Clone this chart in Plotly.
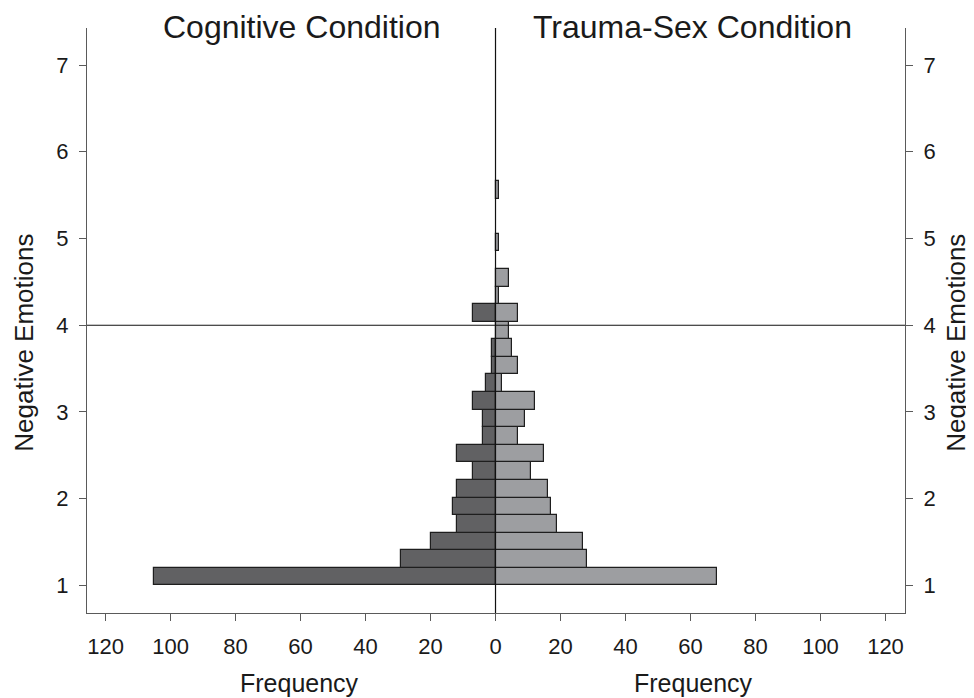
import plotly.graph_objects as go

# ---- data ----
bin_start = 1.0
bin_width = 0.2027
cognitive = [105, 29, 20, 12, 13, 12, 7, 12, 4, 4, 7, 3, 1, 1, 0, 7, 0, 0, 0, 0, 0, 0, 0]
trauma_sex = [68, 28, 27, 19, 17, 16, 11, 15, 7, 9, 12, 2, 7, 5, 4, 7, 1, 4, 0, 1, 0, 0, 1]
x_tick_vals = [-120, -100, -80, -60, -40, -20, 0, 20, 40, 60, 80, 100, 120]
x_tick_text = ["120", "100", "80", "60", "40", "20", "0", "20", "40", "60", "80", "100", "120"]
y_ticks = [1, 2, 3, 4, 5, 6, 7]
cutoff = 4

centers = [bin_start + bin_width * (i + 0.5) for i in range(len(cognitive))]

FONT = "Liberation Sans, Arial, sans-serif"
TXT = "#1a1a1a"
AX = "#5a5a5a"

def nonzero(vals, sign):
    xs, ys = [], []
    for v, c in zip(vals, centers):
        if v:
            xs.append(sign * v)
            ys.append(c)
    return xs, ys

cx, cy = nonzero(cognitive, -1)
tx, ty = nonzero(trauma_sex, 1)

fig = go.Figure()
fig.add_trace(go.Bar(x=cx, y=cy, orientation="h", width=bin_width, base=0,
                     marker=dict(color="#616163", line=dict(color="#1e1e1e", width=1.2)),
                     name="Cognitive Condition", showlegend=False, hoverinfo="skip"))
fig.add_trace(go.Bar(x=tx, y=ty, orientation="h", width=bin_width, base=0,
                     marker=dict(color="#9d9ea1", line=dict(color="#1e1e1e", width=1.2)),
                     name="Trauma-Sex Condition", showlegend=False, hoverinfo="skip"))
# invisible trace for right axis
fig.add_trace(go.Scatter(x=[0], y=[1], yaxis="y2", mode="markers",
                         marker=dict(opacity=0), showlegend=False, hoverinfo="skip"))

yr = [0.682, 7.427]
tick_common = dict(showgrid=False, zeroline=False, showline=True, linecolor=AX, linewidth=1.3,
                   ticks="outside", ticklen=7, tickcolor=AX, tickwidth=1.3,
                   ticklabelstandoff=6, tickfont=dict(size=22, color=TXT))
fig.update_layout(
    width=974, height=698,
    margin=dict(l=79, r=77, t=20, b=93),
    paper_bgcolor="white", plot_bgcolor="white",
    barmode="overlay", bargap=0,
    font=dict(family=FONT, color=TXT, size=22),
    xaxis=dict(range=[-125.7, 126.0], tickvals=x_tick_vals, ticktext=x_tick_text, **tick_common),
    yaxis=dict(range=yr, tickvals=y_ticks, **tick_common),
    yaxis2=dict(range=yr, tickvals=y_ticks, overlaying="y", side="right", anchor="x", **tick_common),
    shapes=[
        dict(type="line", xref="x", yref="paper", x0=0, x1=0, y0=0, y1=1,
             line=dict(color="#111111", width=1.2), layer="above"),
        dict(type="line", xref="paper", yref="y", x0=0, x1=1, y0=cutoff, y1=cutoff,
             line=dict(color="#111111", width=1.2), layer="above"),
    ],
    annotations=[
        dict(text="Cognitive Condition", xref="paper", yref="paper", x=0.263, y=1.002,
             xanchor="center", yanchor="middle", showarrow=False, font=dict(size=32)),
        dict(text="Trauma-Sex Condition", xref="paper", yref="paper", x=0.740, y=1.002,
             xanchor="center", yanchor="middle", showarrow=False, font=dict(size=32)),
        dict(text="Frequency", xref="paper", yref="paper", x=0.260, y=-0.119,
             xanchor="center", yanchor="middle", showarrow=False, font=dict(size=25)),
        dict(text="Frequency", xref="paper", yref="paper", x=0.741, y=-0.119,
             xanchor="center", yanchor="middle", showarrow=False, font=dict(size=25)),
        dict(text="Negative Emotions", xref="paper", yref="paper", x=-0.077, y=0.462,
             xanchor="center", yanchor="middle", textangle=-90, showarrow=False,
             font=dict(size=26)),
        dict(text="Negative Emotions", xref="paper", yref="paper", x=1.0625, y=0.462,
             xanchor="center", yanchor="middle", textangle=-90, showarrow=False,
             font=dict(size=26)),
    ],
)

fig.write_html("out.html")
